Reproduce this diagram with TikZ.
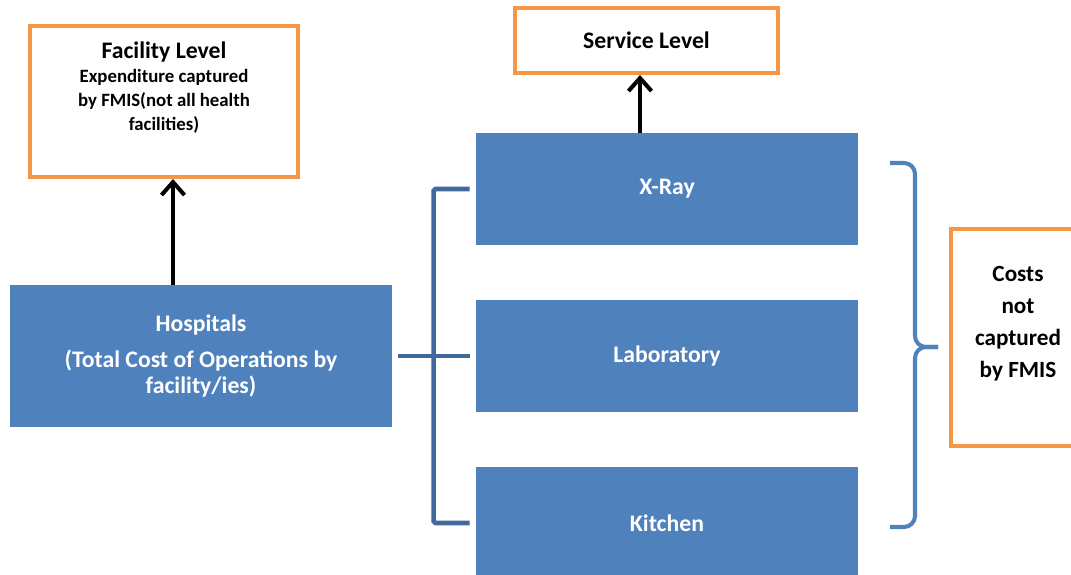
\documentclass[tikz,border=0pt]{standalone}
\usepackage{xcolor}
\usepackage{fontspec}
\setmainfont{Carlito}
\usepackage{tikz}
\usetikzlibrary{positioning}
\usetikzlibrary{arrows.meta}

\definecolor{boxblue}{HTML}{4F81BD}
\definecolor{linkblue}{HTML}{41689C}
\definecolor{lvlorange}{HTML}{F79646}

\tikzset{
  lvlbox/.style={draw=lvlorange, line width=2.3pt, fill=white, inner sep=0pt},
  bluebox/.style={fill=boxblue, inner sep=0pt, minimum width=7.64cm, text=white, align=center, font=\bfseries\fontsize{13.5}{14.8}\selectfont},
  uparrow/.style={-{Straight Barb[length=2.6mm,width=4.6mm]}, line width=2.3pt, black},
  linkline/.style={draw=linkblue, line width=2.6pt, rounded corners=1pt},
  bracebl/.style={draw=boxblue, line width=2.3pt, rounded corners=2.2mm}
}

\begin{document}
\begin{tikzpicture}
    \useasboundingbox (0,0) rectangle (21.42,11.5);
    % level boxes
    \node[lvlbox, minimum width=5.36cm, minimum height=3.02cm] (facility) at (3.28,9.47) {};
    \node[font=\bfseries\fontsize{13.5}{16}\selectfont] (factitle) at ([yshift=-0.56cm]facility.north) {Facility Level};
    \node[font=\bfseries\fontsize{10.7}{13.6}\selectfont, align=center] (factxt) at ([yshift=-1.54cm]facility.north) {Expenditure captured\\by FMIS(not all health\\facilities)};
    \node[lvlbox, minimum width=5.26cm, minimum height=1.30cm, font=\bfseries\fontsize{13.5}{15}\selectfont] (service) at (12.93,10.69) {Service Level};
    \node[lvlbox, minimum width=2.58cm, minimum height=4.34cm] (costs) at (20.31,4.75) {};
    \node[font=\bfseries\fontsize{13.2}{18.2}\selectfont, align=center] (costtxt) at ([xshift=0.05cm,yshift=0.27cm]costs.center) {Costs\\not\\captured\\by FMIS};
    % blue boxes
    \node[bluebox, minimum height=2.84cm] (hospitals) at (4.02,4.38) {Hospitals\\[6pt](Total Cost of Operations by\\facility/ies)};
    \foreach \name/\txt/\y in {xray/X-Ray/7.72, lab/Laboratory/4.38, kitchen/Kitchen/1.04} {\node[bluebox, minimum height=2.24cm] (\name) at (13.34,\y) {\txt};}
    % arrows
    \draw[uparrow] ([xshift=-5.6mm]hospitals.north) -- ([xshift=-5.6mm]hospitals.north |- facility.south);
    \draw[uparrow] ([xshift=-1.3mm]service.south |- xray.north) -- ([xshift=-1.3mm]service.south);
    % links
    \draw[linkline] ([xshift=-1.2mm]xray.west) -- ++(-0.72,0) |- ([xshift=-1.2mm]kitchen.west);
    \draw[linkline] ([xshift=1.2mm]hospitals.east) -- ([xshift=-1.2mm]lab.west);
    % brace
    \draw[bracebl] (17.80,8.24) -| (18.30,4.56) -- (18.76,4.56);
    \draw[bracebl] (17.80,0.96) -| (18.30,4.56) -- (18.76,4.56);
\end{tikzpicture}
\end{document}
